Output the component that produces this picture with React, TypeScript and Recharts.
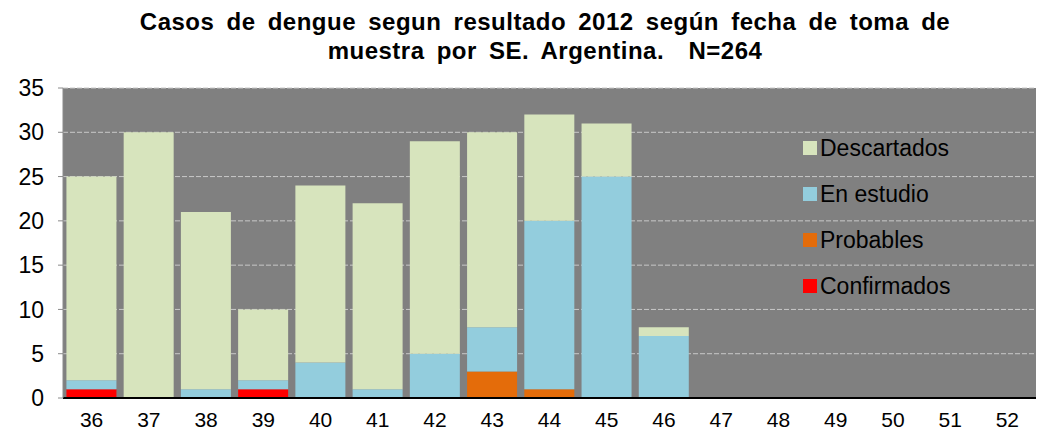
import React from "react";
import { BarChart, Bar, XAxis, YAxis, CartesianGrid } from "recharts";

const semanas = ["36", "37", "38", "39", "40", "41", "42", "43", "44", "45", "46", "47", "48", "49", "50", "51", "52"];
const confirmados = [1, 0, 0, 1, 0, 0, 0, 0, 0, 0, 0, 0, 0, 0, 0, 0, 0];
const probables = [0, 0, 0, 0, 0, 0, 0, 3, 1, 0, 0, 0, 0, 0, 0, 0, 0];
const enEstudio = [1, 0, 1, 1, 4, 1, 5, 5, 19, 25, 7, 0, 0, 0, 0, 0, 0];
const descartados = [23, 30, 20, 8, 20, 21, 24, 22, 12, 6, 1, 0, 0, 0, 0, 0, 0];
const yTicks = [0, 5, 10, 15, 20, 25, 30, 35];

const series = [
  { key: "confirmados", name: "Confirmados", color: "#FF0000" },
  { key: "probables", name: "Probables", color: "#E46C0A" },
  { key: "enEstudio", name: "En estudio", color: "#93CDDD" },
  { key: "descartados", name: "Descartados", color: "#D7E4BD" },
];

const data = semanas.map((se, i) => ({
  se,
  confirmados: confirmados[i],
  probables: probables[i],
  enEstudio: enEstudio[i],
  descartados: descartados[i],
}));

const font = "'Liberation Sans', Arial, sans-serif";

function LegendBox() {
  const items = [...series].reverse();
  return (
    <div
      style={{
        position: "absolute",
        left: 803,
        top: 125,
        fontFamily: font,
        fontSize: 23,
        color: "#000",
      }}
    >
      {items.map((s) => (
        <div key={s.key} style={{ display: "flex", alignItems: "center", height: 46 }}>
          <span style={{ width: 14, height: 14, background: s.color, marginRight: 3, display: "inline-block" }} />
          <span>{s.name}</span>
        </div>
      ))}
    </div>
  );
}

export default function App() {
  return (
    <div style={{ position: "absolute", left: 0, top: 0, width: 1037, height: 432, background: "#fff" }}>
      <div
        style={{
          position: "absolute",
          left: 0,
          top: 7,
          width: 1090,
          textAlign: "center",
          fontFamily: font,
          fontWeight: "bold",
          fontSize: 24,
          lineHeight: "29px",
          letterSpacing: 0.5,
          wordSpacing: 5,
          color: "#000",
        }}
      >
        Casos de dengue segun resultado 2012 según fecha de toma de
        <br />
        muestra por SE. Argentina.&nbsp; N=264
      </div>
      <BarChart
        width={1037}
        height={432}
        data={data}
        margin={{ top: 88, right: 1, bottom: 0, left: 0 }}
        barCategoryGap="6%"
      >
        <CartesianGrid vertical={false} fill="#808080" stroke="#c8c8c8" strokeDasharray="5 2" />
        <XAxis
          dataKey="se"
          height={34}
          tickSize={0}
          tickMargin={14}
          axisLine={{ stroke: "#000", strokeWidth: 2 }}
          tick={{ fill: "#000", fontSize: 21, fontFamily: font }}
          interval={0}
        />
        <YAxis
          width={63}
          domain={[0, 35]}
          ticks={yTicks}
          tickSize={5}
          tickMargin={14}
          axisLine={{ stroke: "#8a8a8a" }}
          tickLine={{ stroke: "#8a8a8a" }}
          tick={{ fill: "#000", fontSize: 23, fontFamily: font }}
        />
        {series.map((s) => (
          <Bar
            key={s.key}
            dataKey={s.key}
            name={s.name}
            stackId="a"
            fill={s.color}
            isAnimationActive={false}
          />
        ))}
      </BarChart>
      <LegendBox />
    </div>
  );
}
